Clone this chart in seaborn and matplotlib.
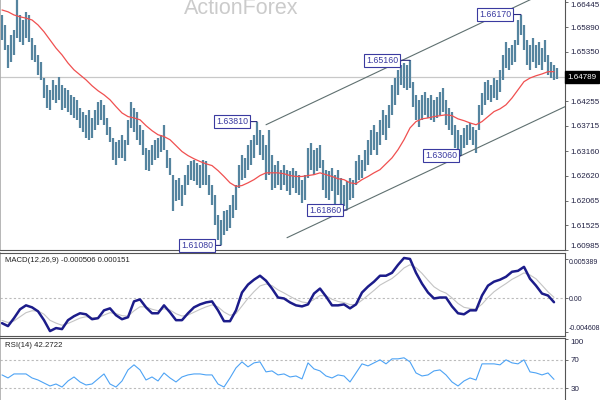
import numpy as np
import pandas as pd
import seaborn as sns
import matplotlib.pyplot as plt
import matplotlib.transforms as mtransforms

# --- data (one bar every index step) ---
bar_high = [
    1.6616, 1.6594, 1.6550, 1.6572, 1.6583, 1.6649, 1.6616, 1.6605, 1.6623, 1.6616,
    1.6565, 1.6550, 1.6528, 1.6513, 1.6477, 1.6462, 1.6451, 1.6473, 1.6462, 1.6480,
    1.6462, 1.6455, 1.6451, 1.6440, 1.6436, 1.6429, 1.6411, 1.6403, 1.6396, 1.6407,
    1.6389, 1.6407, 1.6425, 1.6429, 1.6418, 1.6389, 1.6370, 1.6345, 1.6337, 1.6341,
    1.6352, 1.6341, 1.6385, 1.6425, 1.6411, 1.6403, 1.6374, 1.6363, 1.6323, 1.6319,
    1.6330, 1.6341, 1.6345, 1.6352, 1.6374, 1.6319, 1.6301, 1.6264, 1.6253, 1.6257,
    1.6242, 1.6264, 1.6286, 1.6293, 1.6297, 1.6290, 1.6286, 1.6297, 1.6293, 1.6264,
    1.6242, 1.6220, 1.6176, 1.6165, 1.6183, 1.6187, 1.6198, 1.6220, 1.6242, 1.6286,
    1.6308, 1.6301, 1.6330, 1.6341, 1.6352, 1.6381, 1.6363, 1.6352, 1.6330, 1.6363,
    1.6308, 1.6286, 1.6293, 1.6275, 1.6286, 1.6275, 1.6271, 1.6279, 1.6271, 1.6264,
    1.6253, 1.6264, 1.6323, 1.6334, 1.6319, 1.6323, 1.6330, 1.6297, 1.6275, 1.6271,
    1.6279, 1.6264, 1.6275, 1.6257, 1.6242, 1.6249, 1.6257, 1.6253, 1.6293, 1.6308,
    1.6297, 1.6319, 1.6341, 1.6363, 1.6374, 1.6359, 1.6385, 1.6407, 1.6396, 1.6418,
    1.6462, 1.6477, 1.6495, 1.6506, 1.6510, 1.6506, 1.6516, 1.6469, 1.6440, 1.6429,
    1.6440, 1.6447, 1.6433, 1.6440, 1.6429, 1.6436, 1.6447, 1.6455, 1.6429, 1.6411,
    1.6403, 1.6374, 1.6363, 1.6352, 1.6367, 1.6374, 1.6378, 1.6370, 1.6363, 1.6418,
    1.6444, 1.6469, 1.6473, 1.6462, 1.6477, 1.6473, 1.6495, 1.6528, 1.6557, 1.6543,
    1.6550, 1.6561, 1.6605, 1.6617, 1.6594, 1.6561, 1.6550, 1.6565, 1.6550, 1.6557,
    1.6543, 1.6561, 1.6528, 1.6513, 1.6506, 1.6499,
]
bar_low = [
    1.6561, 1.6539, 1.6499, 1.6513, 1.6528, 1.6565, 1.6557, 1.6550, 1.6565, 1.6557,
    1.6517, 1.6513, 1.6484, 1.6473, 1.6433, 1.6411, 1.6407, 1.6429, 1.6422, 1.6429,
    1.6407, 1.6411, 1.6403, 1.6396, 1.6389, 1.6385, 1.6367, 1.6359, 1.6345, 1.6341,
    1.6345, 1.6363, 1.6374, 1.6385, 1.6374, 1.6352, 1.6337, 1.6297, 1.6286, 1.6301,
    1.6301, 1.6293, 1.6330, 1.6367, 1.6359, 1.6341, 1.6330, 1.6308, 1.6275, 1.6271,
    1.6286, 1.6297, 1.6301, 1.6315, 1.6319, 1.6279, 1.6264, 1.6183, 1.6205, 1.6209,
    1.6194, 1.6220, 1.6242, 1.6253, 1.6249, 1.6242, 1.6235, 1.6242, 1.6242, 1.6220,
    1.6198, 1.6154, 1.6121, 1.6108, 1.6132, 1.6139, 1.6147, 1.6169, 1.6187, 1.6235,
    1.6253, 1.6257, 1.6275, 1.6286, 1.6301, 1.6330, 1.6308, 1.6297, 1.6253, 1.6264,
    1.6231, 1.6235, 1.6242, 1.6231, 1.6242, 1.6227, 1.6220, 1.6235, 1.6224, 1.6220,
    1.6202, 1.6209, 1.6257, 1.6275, 1.6264, 1.6271, 1.6279, 1.6231, 1.6213, 1.6209,
    1.6227, 1.6198, 1.6220, 1.6198, 1.6194, 1.6186, 1.6209, 1.6213, 1.6242, 1.6253,
    1.6257, 1.6271, 1.6286, 1.6308, 1.6319, 1.6308, 1.6330, 1.6352, 1.6341, 1.6367,
    1.6396, 1.6418, 1.6440, 1.6462, 1.6455, 1.6451, 1.6455, 1.6414, 1.6385, 1.6370,
    1.6385, 1.6396, 1.6389, 1.6385, 1.6381, 1.6389, 1.6396, 1.6403, 1.6374, 1.6363,
    1.6352, 1.6323, 1.6315, 1.6306, 1.6323, 1.6330, 1.6341, 1.6330, 1.6312, 1.6363,
    1.6396, 1.6418, 1.6429, 1.6425, 1.6433, 1.6429, 1.6447, 1.6473, 1.6499, 1.6495,
    1.6506, 1.6513, 1.6550, 1.6572, 1.6539, 1.6506, 1.6495, 1.6513, 1.6499, 1.6506,
    1.6495, 1.6513, 1.6484, 1.6477, 1.6473, 1.6475,
]

# indicators, one value every 2 bars
ma_vals = [
    1.6627, 1.6623, 1.6616, 1.6612, 1.6609, 1.6605, 1.6594, 1.6579, 1.6561, 1.6543,
    1.6528, 1.6510, 1.6495, 1.6484, 1.6473, 1.6460, 1.6449, 1.6440, 1.6429, 1.6414,
    1.6400, 1.6392, 1.6389, 1.6385, 1.6372, 1.6361, 1.6352, 1.6348, 1.6341, 1.6328,
    1.6315, 1.6306, 1.6299, 1.6293, 1.6288, 1.6284, 1.6273, 1.6260, 1.6246, 1.6238,
    1.6240, 1.6246, 1.6253, 1.6262, 1.6268, 1.6268, 1.6268, 1.6266, 1.6262, 1.6260,
    1.6260, 1.6262, 1.6264, 1.6268, 1.6264, 1.6260, 1.6255, 1.6253, 1.6246, 1.6244,
    1.6253, 1.6260, 1.6268, 1.6275, 1.6288, 1.6301, 1.6319, 1.6341, 1.6367, 1.6381,
    1.6387, 1.6389, 1.6392, 1.6394, 1.6396, 1.6394, 1.6387, 1.6383, 1.6378, 1.6374,
    1.6381, 1.6392, 1.6403, 1.6409, 1.6418, 1.6433, 1.6451, 1.6469, 1.6477, 1.6482,
    1.6486, 1.6491, 1.6491,
]
macd_vals = [
    -0.00337, -0.00377, -0.00269, -0.00148, -0.00094, -0.00121, -0.00175, -0.00296, -0.00445, -0.00404,
    -0.00418, -0.00296, -0.00242, -0.00202, -0.00216, -0.00283, -0.00269, -0.00162, -0.00135, -0.00229,
    -0.00283, -0.00256, -0.00040, -0.00013, -0.00121, -0.00202, -0.00202, -0.00094, -0.00189, -0.00296,
    -0.00296, -0.00202, -0.00121, -0.00081, -0.00054, -0.00040, -0.00162, -0.00310, -0.00310, -0.00162,
    0.00081, 0.00189, 0.00256, 0.00310, 0.00242, 0.00135, 0.00013, 0.0, -0.00054, -0.00094,
    -0.00108, -0.00081, 0.00067, 0.00135, 0.00027, -0.00094, -0.00094, -0.00081, -0.00135, -0.00081,
    0.00081, 0.00162, 0.00229, 0.00310, 0.00310, 0.00350, 0.00458, 0.00552, 0.00539, 0.00350,
    0.00202, 0.00081, 0.0, 0.00013, 0.00013, -0.00108, -0.00202, -0.00216, -0.00162, -0.00162,
    0.00040, 0.00175, 0.00229, 0.00256, 0.00296, 0.00364, 0.00377, 0.00431, 0.00269, 0.00175,
    0.00067, 0.00040, -0.00051,
]
signal_vals = [
    -0.00300, -0.00328, -0.00307, -0.00250, -0.00194, -0.00168, -0.00170, -0.00215, -0.00298, -0.00336,
    -0.00366, -0.00341, -0.00305, -0.00268, -0.00249, -0.00261, -0.00264, -0.00227, -0.00194, -0.00207,
    -0.00234, -0.00242, -0.00169, -0.00113, -0.00116, -0.00147, -0.00167, -0.00141, -0.00158, -0.00208,
    -0.00240, -0.00226, -0.00188, -0.00149, -0.00115, -0.00088, -0.00115, -0.00185, -0.00230, -0.00206,
    -0.00103, 0.00002, 0.00093, 0.00171, 0.00197, 0.00175, 0.00117, 0.00075, 0.00029, -0.00015,
    -0.00048, -0.00060, -0.00014, 0.00040, 0.00035, -0.00011, -0.00041, -0.00055, -0.00084, -0.00083,
    -0.00024, 0.00043, 0.00110, 0.00182, 0.00228, 0.00272, 0.00339, 0.00416, 0.00460, 0.00420,
    0.00342, 0.00248, 0.00159, 0.00106, 0.00073, 0.00008, -0.00068, -0.00121, -0.00136, -0.00145,
    -0.00078, 0.00013, 0.00091, 0.00150, 0.00203, 0.00261, 0.00303, 0.00349, 0.00320, 0.00268,
    0.00180, 0.00090, 0.00015,
]
rsi_vals = [
    48.6, 44.3, 50.0, 50.0, 50.0, 44.3, 41.4, 37.1, 32.9, 35.7,
    31.4, 40.0, 45.7, 38.6, 34.3, 35.7, 42.9, 50.0, 35.7, 31.4,
    40.0, 55.7, 62.9, 55.7, 41.4, 45.7, 40.0, 51.4, 44.3, 38.6,
    45.7, 48.6, 50.0, 50.0, 48.6, 48.6, 35.7, 31.4, 44.3, 58.6,
    67.1, 60.0, 65.7, 67.1, 52.9, 54.3, 48.6, 50.0, 45.7, 47.1,
    42.9, 65.7, 57.1, 54.3, 47.1, 44.3, 48.6, 47.1, 38.6, 51.4,
    64.3, 61.4, 65.7, 70.0, 64.3, 71.4, 71.4, 72.9, 67.1, 51.4,
    47.1, 48.6, 54.3, 55.7, 48.6, 38.6, 32.9, 40.0, 44.3, 41.4,
    64.3, 64.3, 64.3, 62.9, 70.0, 65.7, 64.3, 70.0, 52.9, 51.4,
    48.6, 51.4, 42.3,
]

# swing points (bar index, price) and channel anchors
swing_idx = [173, 136, 85, 115, 153, 73]
swing_price = [1.6617, 1.6516, 1.6381, 1.6186, 1.6306, 1.6108]
swing_text = ["1.66170", "1.65160", "1.63810", "1.61860", "1.63060", "1.61080"]
upper_chan_idx = [88, 187.7]
upper_chan_price = [1.6374, 1.6686]
lower_chan_idx = [95, 187.7]
lower_chan_price = [1.6125, 1.6414]

last_price = 1.64789
price_ticks = [1.66445, 1.65890, 1.65350, 1.64255, 1.63715, 1.63160,
               1.62620, 1.62065, 1.61525, 1.60985]
macd_ticks = [0.005389, 0.0, -0.004608]
macd_tick_labels = ["0.005389", "0.00", "-0.004608"]
rsi_ticks = [100, 70, 30]

bars = pd.DataFrame({"idx": np.arange(len(bar_high)), "high": bar_high, "low": bar_low})
ind = pd.DataFrame({"idx": np.arange(len(ma_vals)) * 2, "ma": ma_vals,
                    "macd": macd_vals, "signal": signal_vals, "rsi": rsi_vals})

sns.set_style("white")
plt.rcParams["font.family"] = ["Liberation Sans", "DejaVu Sans"]

fig = plt.figure(figsize=(6, 4), dpi=100)
W = 565 / 600
ax = fig.add_axes([0, 1 - 250 / 400, W, 250 / 400])
ax_macd = fig.add_axes([0, 1 - 336 / 400, W, 83 / 400])
ax_rsi = fig.add_axes([0, 0, W, 62 / 400])

xlim = (-2 / 3, 563 / 3)
axis_col = "#555555"
tick_col = "#222244"
tick_size = 5.8

# --- price panel ---
ax.axhline(last_price, color="#c8c8c8", lw=0.9, zorder=1)
ax.vlines(bars["idx"], bars["low"], bars["high"], color="#55849f", lw=1.6, zorder=2)
sns.lineplot(data=ind, x="idx", y="ma", ax=ax, color="#f05050", lw=0.9, zorder=3)
ax.plot(upper_chan_idx, upper_chan_price, color="#5f7070", lw=0.8, zorder=3)
ax.plot(lower_chan_idx, lower_chan_price, color="#5f7070", lw=0.8, zorder=3)

offsets = [-8, -10, -7, -4, -2, -6]
for i, p, t, off in zip(swing_idx, swing_price, swing_text, offsets):
    ax.annotate(t, xy=(i, p), xytext=(off - 2, 0), textcoords="offset pixels",
                ha="right", va="center", fontsize=6.3, color="#3a3aa0", zorder=5,
                bbox=dict(boxstyle="square,pad=0.2", fc="white", ec="#3a3aa0", lw=0.8),
                arrowprops=dict(arrowstyle="-", color="#2a2a80", lw=0.8,
                                shrinkA=0, shrinkB=0))

ax.set_xlim(*xlim)
ax.set_ylim(1.6649 - 0.00022 * 250.5, 1.6649)
ax.yaxis.tick_right()
ax.set_yticks(price_ticks)
ax.set_yticklabels([f"{v:.5f}" for v in price_ticks])
ax.set_xticks([])
ax.set_xlabel("")
ax.set_ylabel("")

trans = mtransforms.blended_transform_factory(ax.transAxes, ax.transData)
ax.text(1.004, last_price, "1.64789", transform=trans, ha="left", va="center",
        fontsize=tick_size, color="white",
        bbox=dict(boxstyle="square,pad=0.3", fc="black", ec="black"))

fig.text(241 / 600, 1 - 9 / 400, "ActionForex", ha="center", va="center",
         fontsize=15.5, color="#cbcbcb")

# --- MACD panel ---
ax_macd.axhline(0, color="#bbbbbb", lw=0.8, ls=(0, (2, 2)))
sns.lineplot(data=ind, x="idx", y="signal", ax=ax_macd, color="#c4c4c4", lw=0.8)
sns.lineplot(data=ind, x="idx", y="macd", ax=ax_macd, color="#1c1c8a", lw=1.8)
ax_macd.set_xlim(*xlim)
ax_macd.set_ylim(-0.00512, 0.0062)
ax_macd.yaxis.tick_right()
ax_macd.set_yticks(macd_ticks)
ax_macd.set_yticklabels(macd_tick_labels)
ax_macd.set_xticks([])
ax_macd.set_xlabel("")
ax_macd.set_ylabel("")
ax_macd.text(0.008, 0.95, "MACD(12,26,9) -0.000506 0.000151", transform=ax_macd.transAxes,
             ha="left", va="top", fontsize=5.6, color="#222222")

# --- RSI panel ---
for lvl in (70, 30):
    ax_rsi.axhline(lvl, color="#bbbbbb", lw=0.8, ls=(0, (2, 2)))
sns.lineplot(data=ind, x="idx", y="rsi", ax=ax_rsi, color="#4da3f5", lw=0.8)
ax_rsi.set_xlim(*xlim)
ax_rsi.set_ylim(13, 101)
ax_rsi.yaxis.tick_right()
ax_rsi.set_yticks(rsi_ticks)
ax_rsi.set_yticklabels([str(v) for v in rsi_ticks])
ax_rsi.set_xticks([])
ax_rsi.set_xlabel("")
ax_rsi.set_ylabel("")
ax_rsi.text(0.008, 0.93, "RSI(14) 42.2722", transform=ax_rsi.transAxes,
            ha="left", va="top", fontsize=5.6, color="#222222")

for a in (ax, ax_macd, ax_rsi):
    a.tick_params(axis="y", which="both", right=True, length=2, width=0.6,
                  labelsize=tick_size, pad=2, colors=axis_col, labelcolor=tick_col)
    a.spines["left"].set_color("#aaaaaa")
    a.spines["left"].set_linewidth(1.2)
    a.spines["right"].set_color(axis_col)
    a.spines["top"].set_color(axis_col)
    a.spines["bottom"].set_color(axis_col)
    a.set_facecolor("white")
ax.spines["top"].set_visible(False)
ax_rsi.spines["bottom"].set_visible(False)
# the long MACD labels need a smaller size to fit the right margin
ax_macd.tick_params(axis="y", labelsize=5.0, pad=1)

# keep the extreme tick labels inside their own panel
ax.get_yticklabels()[0].set_va("top")
ax.get_yticklabels()[-1].set_va("bottom")
ax_macd.get_yticklabels()[0].set_va("top")
ax_macd.get_yticklabels()[-1].set_va("bottom")
ax_rsi.get_yticklabels()[0].set_va("top")

fig.savefig("out.png", dpi=100)
